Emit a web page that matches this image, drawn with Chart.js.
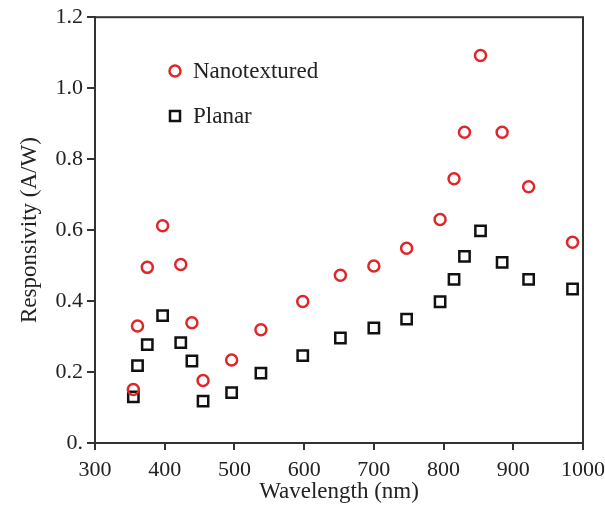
<!DOCTYPE html>
<html>
<head>
<meta charset="utf-8">
<script src="https://cdn.jsdelivr.net/npm/chart.js@4.4.1/dist/chart.umd.min.js"></script>
<style>
  html, body { margin: 0; padding: 0; background: #fff; }
  #wrap { width: 605px; height: 506px; }
</style>
</head>
<body>
<div id="wrap"><canvas id="c" width="605" height="506"></canvas></div>
<script>
// Wavelengths (nm) at which responsivity was measured
const wavelengths = [355, 361, 375, 397, 423, 439, 455, 496, 538, 598, 652, 700, 747, 795, 815, 830, 853, 884, 922, 985];
// Responsivity (A/W)
const nanotextured = [0.151, 0.330, 0.495, 0.612, 0.503, 0.339, 0.176, 0.234, 0.319, 0.399, 0.473, 0.499, 0.549, 0.630, 0.745, 0.876, 1.092, 0.876, 0.722, 0.566];
const planar = [0.130, 0.218, 0.277, 0.359, 0.283, 0.231, 0.118, 0.142, 0.197, 0.246, 0.296, 0.324, 0.349, 0.398, 0.461, 0.526, 0.598, 0.509, 0.461, 0.434];

const xTicks = [300, 400, 500, 600, 700, 800, 900, 1000];
const yTicks = [0, 0.2, 0.4, 0.6, 0.8, 1.0, 1.2];
const yTickLabels = ['0.', '0.2', '0.4', '0.6', '0.8', '1.0', '1.2'];

const seriesNames = ['Nanotextured', 'Planar'];
const FONT = '"Liberation Serif", "Times New Roman", serif';
const INK = '#222';
const RED = '#e0262b';

const toPoints = (ys) => wavelengths.map((x, i) => ({ x, y: ys[i] }));

// Closed frame around the plotting area
const framePlugin = {
  id: 'frame',
  afterDraw(chart) {
    const { ctx, chartArea: a } = chart;
    ctx.save();
    ctx.strokeStyle = '#333';
    ctx.lineWidth = 2;
    ctx.strokeRect(a.left, a.top, a.right - a.left, a.bottom - a.top);
    ctx.restore();
  }
};

// Legend placed inside the plotting area, upper left
const innerLegend = {
  id: 'innerLegend',
  afterDraw(chart) {
    const { ctx } = chart;
    const rows = [{ x: 175, y: 71 }, { x: 175, y: 116 }];
    ctx.save();
    chart.data.datasets.forEach((ds, i) => {
      const r = rows[i];
      ctx.lineWidth = 2.5;
      ctx.strokeStyle = ds.borderColor;
      ctx.beginPath();
      if (ds.pointStyle === 'circle') {
        ctx.arc(r.x, r.y, 5.5, 0, Math.PI * 2);
      } else {
        ctx.rect(r.x - 5, r.y - 5, 10, 10);
      }
      ctx.stroke();
      ctx.fillStyle = INK;
      ctx.font = '23px ' + FONT;
      ctx.textBaseline = 'middle';
      ctx.textAlign = 'left';
      ctx.fillText(ds.label, r.x + 18, r.y + 1);
    });
    ctx.restore();
  }
};

new Chart(document.getElementById('c'), {
  type: 'scatter',
  data: {
    datasets: [
      {
        label: seriesNames[0],
        data: toPoints(nanotextured),
        pointStyle: 'circle',
        pointRadius: 5.5,
        pointBorderWidth: 2.5,
        borderColor: RED,
        backgroundColor: 'rgba(0,0,0,0)',
        pointBackgroundColor: 'rgba(0,0,0,0)'
      },
      {
        label: seriesNames[1],
        data: toPoints(planar),
        pointStyle: 'rect',
        pointRadius: 7.3,
        pointBorderWidth: 2.5,
        borderColor: '#111',
        backgroundColor: 'rgba(0,0,0,0)',
        pointBackgroundColor: 'rgba(0,0,0,0)'
      }
    ]
  },
  options: {
    responsive: false,
    animation: false,
    events: [],
    layout: { padding: { top: 14, right: 0, left: 0, bottom: 0 } },
    plugins: { legend: { display: false }, tooltip: { enabled: false } },
    scales: {
      x: {
        type: 'linear',
        min: 300,
        max: 1000,
        afterBuildTicks(scale) { scale.ticks = xTicks.map(v => ({ value: v })); },
        afterFit(scale) { scale.height = 63; scale.paddingRight = 22; },
        grid: { display: true, drawOnChartArea: false, drawTicks: true, tickLength: 7, color: '#333', lineWidth: 2 },
        border: { display: true, color: '#333', width: 2 },
        ticks: {
          color: INK,
          font: { family: FONT, size: 22 },
          padding: 7,
          maxRotation: 0,
          callback(value) { return String(value); }
        },
        title: { display: true, text: 'Wavelength (nm)', color: INK, font: { family: FONT, size: 23 }, padding: { top: 0, bottom: 0 } }
      },
      y: {
        type: 'linear',
        min: 0,
        max: 1.2,
        afterBuildTicks(scale) { scale.ticks = yTicks.map(v => ({ value: v })); },
        afterFit(scale) { scale.width = 95; },
        grid: { display: true, drawOnChartArea: false, drawTicks: true, tickLength: 8, color: '#333', lineWidth: 2 },
        border: { display: true, color: '#333', width: 2 },
        ticks: {
          color: INK,
          font: { family: FONT, size: 22 },
          padding: 4,
          callback(value) {
            const i = yTicks.findIndex(t => Math.abs(t - value) < 1e-9);
            return i >= 0 ? yTickLabels[i] : '';
          }
        },
        title: { display: true, text: 'Responsivity (A/W)', color: INK, font: { family: FONT, size: 23 }, padding: { top: 16, bottom: 0 } }
      }
    }
  },
  plugins: [framePlugin, innerLegend]
});
</script>
</body>
</html>
